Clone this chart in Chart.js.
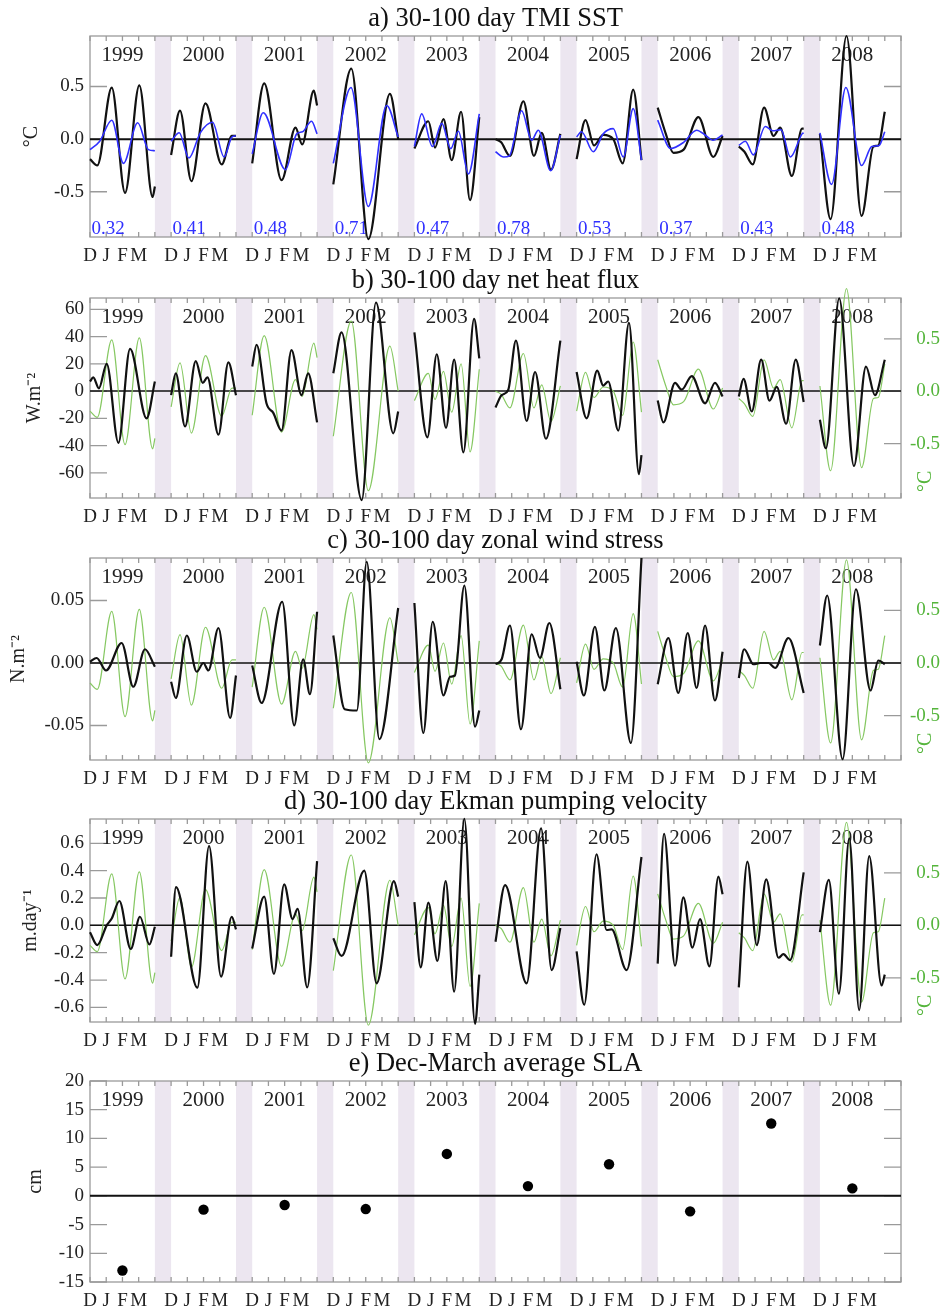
<!DOCTYPE html>
<html>
<head>
<meta charset="utf-8">
<script src="https://cdn.jsdelivr.net/npm/chart.js@4.4.1/dist/chart.umd.min.js"></script>
<style>
  body { margin: 0; background: #fff; }
  #page { position: relative; width: 940px; height: 1312px; }
  #page canvas { position: absolute; left: 0; }
</style>
</head>
<body>
<div id="page"></div>
<script>
// Dec-Mar seasons, one block of 5 "months" per year (D J F M + gap)
const years = ['1999', '2000', '2001', '2002', '2003', '2004', '2005', '2006', '2007', '2008'];
const monthLabels = ['D', 'J', 'F', 'M', ''];
const corr = ['0.32', '0.41', '0.48', '0.71', '0.47', '0.78', '0.53', '0.37', '0.43', '0.48'];

// tick values for each axis
const sstTicks = [-0.5, 0, 0.5];
const fluxTicks = [-60, -40, -20, 0, 20, 40, 60];
const tauTicks = [-0.05, 0, 0.05];
const ekmanTicks = [-0.6, -0.4, -0.2, 0, 0.2, 0.4, 0.6];
const slaTicks = [-15, -10, -5, 0, 5, 10, 15, 20];

// [month since 1 Dec, value] per season
const sstTmi = [
  [[0,-0.19],[0.45,-0.25],[1.34,0.49],[2.16,-0.51],[3.04,0.51],[3.86,-0.55],[4,-0.45]],
  [[0,-0.15],[0.55,0.27],[1.25,-0.40],[2.12,0.34],[3.12,-0.24],[3.75,0.03],[4,0.03]],
  [[0,-0.23],[0.74,0.53],[1.81,-0.39],[2.67,0.11],[3.08,-0.05],[3.8,0.46],[4,0.32]],
  [[0,-0.43],[1.11,0.67],[2.16,-0.95],[3.49,0.43],[4,0.0]],
  [[0,-0.09],[0.86,0.17],[1.27,-0.08],[1.79,0.19],[2.3,-0.2],[2.88,0.26],[3.43,-0.58],[4,0.21]],
  [[0,0.0],[0.35,-0.03],[0.89,-0.16],[1.72,0.36],[2.37,-0.16],[2.85,0.06],[3.42,-0.29],[4,0.05]],
  [[0,-0.19],[0.55,0.18],[1.07,-0.06],[1.64,0.04],[2.26,0.0],[2.84,-0.23],[3.49,0.47],[4,-0.2]],
  [[0,0.3],[0.5,0.05],[0.97,-0.13],[1.6,-0.1],[2.51,0.21],[3.43,-0.17],[4,0.03]],
  [[0,-0.07],[0.35,-0.12],[0.86,-0.24],[1.56,0.3],[2.14,0.03],[2.55,0.11],[3.27,-0.35],[3.9,0.1],[4,0.1]],
  [[0,0.05],[0.66,-0.76],[1.64,0.98],[2.57,-0.73],[3.3,-0.07],[3.6,-0.06],[4,0.26]]
];

const sstBudget = [
  [[0,-0.1],[0.6,-0.02],[1.34,0.18],[2.06,-0.23],[2.94,0.155],[3.6,-0.1],[4,-0.11]],
  [[0,-0.02],[0.5,0.06],[1.1,-0.18],[1.8,0.06],[2.55,0.16],[3.27,-0.17],[3.75,0.02],[4,0.03]],
  [[0,-0.14],[0.68,0.25],[2.05,-0.29],[2.74,0.05],[3.1,0.07],[3.66,0.17],[4,0.05]],
  [[0,-0.23],[1.09,0.49],[2.16,-0.64],[3.29,0.32],[4,0.02]],
  [[0,-0.07],[0.45,0.24],[1.11,-0.07],[1.69,0.15],[2.24,-0.09],[2.71,0.075],[3.33,-0.33],[4,0.24]],
  [[0,-0.12],[0.5,-0.17],[0.85,-0.16],[1.61,0.27],[2.23,-0.01],[2.64,0.085],[3.4,-0.3],[4,0.04]],
  [[0,0.02],[0.3,0.07],[1.03,-0.12],[1.64,0.05],[2.26,0.1],[2.88,-0.17],[3.49,0.29],[4,-0.2]],
  [[0,0.18],[0.8,-0.09],[1.6,-0.03],[2.4,0.085],[3.0,0.03],[3.4,-0.01],[4,0.04]],
  [[0,-0.06],[0.4,-0.02],[0.9,-0.15],[1.63,0.12],[2.1,0.08],[2.6,0.09],[3.18,-0.17],[3.9,0.05],[4,0.06]],
  [[0,0.06],[0.72,-0.43],[1.6,0.49],[2.57,-0.25],[3.2,-0.07],[3.65,-0.06],[4,0.07]]
];

const heatFlux = [
  [[0,7],[0.2,10],[0.55,2],[1.03,20],[1.75,-38],[2.47,31],[3.49,-20],[4,7]],
  [[0,-3],[0.29,13],[0.86,-26],[1.52,22],[1.95,6],[2.24,10],[2.92,-32],[3.53,21],[4,-3]],
  [[0,18],[0.27,34],[0.88,-9],[1.3,-16],[1.81,-29],[2.42,30],[3.04,-3],[3.45,13],[4,-23]],
  [[0,13],[0.51,43],[1.75,-80],[2.63,65],[3.7,-31],[4,-15]],
  [[0,43],[0.8,-34],[1.38,27],[1.95,-27],[2.45,23],[3.02,-45],[3.68,53],[4,24]],
  [[0,-12],[0.38,-3],[0.79,1],[1.26,37],[1.92,-22],[2.44,14],[3.11,-35],[4,37]],
  [[0,14],[0.62,-20],[1.27,15],[1.64,4],[1.95,7],[2.57,-29],[3.23,50],[3.84,-61],[4,-47]],
  [[0,-7],[0.35,-23],[1.07,6],[1.48,1],[2.1,11],[2.92,-9],[3.53,6],[4,-4]],
  [[0,-4],[0.29,9],[0.8,-15],[1.38,23],[1.89,-7],[2.34,3],[2.92,-24],[3.51,23],[4,-8]],
  [[0,-21],[0.37,-42],[1.19,68],[2.1,-55],[2.84,18],[3.39,-3],[4,23]]
];

const windStress = [
  [[0,0.001],[0.41,0.004],[0.99,-0.006],[1.95,0.016],[2.67,-0.019],[3.39,0.011],[4,-0.003]],
  [[0,-0.015],[0.29,-0.028],[0.97,0.022],[1.58,-0.007],[1.99,0.0],[2.3,-0.006],[2.92,0.028],[3.64,-0.044],[4,-0.01]],
  [[0,-0.002],[0.58,-0.032],[1.85,0.049],[2.59,-0.05],[3.14,0.003],[3.56,-0.025],[4,0.041]],
  [[0,0.022],[0.7,-0.037],[1.45,-0.038],[2.06,0.081],[2.84,-0.061],[4,0.044]],
  [[0,0.048],[0.55,-0.056],[1.13,0.033],[1.79,-0.026],[2.2,-0.011],[2.5,-0.01],[3.08,0.062],[3.74,-0.051],[4,-0.038]],
  [[0,-0.001],[0.38,0.003],[0.89,0.03],[1.57,-0.053],[2.23,0.023],[2.74,0.004],[3.32,0.032],[4,-0.021]],
  [[0,0.001],[0.45,-0.026],[1.13,0.029],[1.71,-0.022],[2.42,0.028],[3.35,-0.064],[4,0.084]],
  [[0,-0.017],[0.66,0.02],[1.27,-0.024],[1.85,0.024],[2.4,-0.02],[2.92,0.03],[3.53,-0.03],[4,0.009]],
  [[0,-0.012],[0.33,0.011],[0.9,-0.001],[1.32,0.0],[1.83,0.0],[2.24,-0.004],[3.06,0.02],[4,-0.024]],
  [[0,0.014],[0.45,0.054],[1.4,-0.077],[2.22,0.059],[3.12,-0.022],[3.6,0.002],[4,-0.001]]
];

const ekman = [
  [[0,-0.05],[0.45,-0.145],[1.03,0.0],[1.34,0.05],[1.81,0.178],[2.51,-0.173],[3.08,0.063],[3.66,-0.14],[4,-0.01]],
  [[0,-0.23],[0.3,0.28],[1.62,-0.456],[2.34,0.58],[3.08,-0.375],[3.74,0.063],[4,-0.03]],
  [[0,-0.17],[0.74,0.21],[1.34,-0.356],[1.97,0.3],[2.49,0.046],[2.8,0.12],[3.39,-0.454],[4,0.47]],
  [[0,-0.095],[0.51,-0.224],[1.91,0.4],[2.67,-0.424],[3.74,0.324],[4,0.21]],
  [[0,0.17],[0.39,-0.307],[0.86,0.166],[1.42,-0.26],[1.93,0.324],[2.45,-0.485],[3.08,0.78],[3.74,-0.72],[4,-0.36]],
  [[0,-0.12],[0.59,0.295],[1.92,-0.424],[2.81,0.71],[3.46,-0.327],[4,-0.02]],
  [[0,-0.19],[0.47,-0.58],[1.23,0.52],[1.85,-0.034],[2.16,-0.03],[3.08,-0.327],[4,0.5]],
  [[0,-0.28],[0.39,0.67],[1.07,-0.295],[1.58,0.205],[2.14,-0.163],[2.61,0.046],[3.19,-0.3],[3.74,0.356],[4,0.227]],
  [[0,-0.454],[0.53,0.466],[1.11,-0.144],[1.69,0.337],[2.45,-0.237],[2.75,-0.21],[3.16,-0.254],[4,0.388]],
  [[0,-0.05],[0.55,0.332],[1.17,-0.5],[1.81,0.637],[2.42,-0.62],[3.04,0.507],[3.8,-0.44],[4,-0.36]]
];

// Dec-March mean sea level anomaly (cm)
const slaMean = [-13.0, -2.4, -1.6, -2.3, 7.3, 1.7, 5.5, -2.7, 12.6, 1.3];

const serif = "'Liberation Serif', 'Times New Roman', serif";
const green = '#86c862';
const greenText = '#55b53c';
const bandColor = 'rgb(236, 230, 240)';
const frameColor = '#9a9a9a';

const fmt = (v, d) => (Math.abs(v) < 1e-9 ? 0 : v).toFixed(d);

function seasonSets(series, color, width, axis) {
  return series.map((pts, i) => ({
    data: pts.map(([m, v]) => ({ x: i * 5 + m, y: v })),
    borderColor: color,
    borderWidth: width,
    pointRadius: 0,
    cubicInterpolationMode: 'monotone',
    yAxisID: axis,
    clip: false
  }));
}

function decor(p) {
  return {
    id: 'decor',
    beforeDatasetsDraw(chart) {
      const { ctx, chartArea: a, scales } = chart;
      const x = scales.x, y = scales.y;
      ctx.save();

      // gaps between seasons
      ctx.fillStyle = bandColor;
      for (let i = 0; i < years.length - 1; i++) {
        const x0 = x.getPixelForValue(i * 5 + 4), x1 = x.getPixelForValue(i * 5 + 5);
        ctx.fillRect(x0, a.top, x1 - x0, a.bottom - a.top);
      }

      // frame and inward ticks
      ctx.strokeStyle = frameColor;
      ctx.lineWidth = 1.3;
      ctx.strokeRect(a.left, a.top, a.right - a.left, a.bottom - a.top);
      ctx.beginPath();
      for (let v = 0; v <= 50; v++) {
        const px = x.getPixelForValue(v);
        ctx.moveTo(px, a.bottom); ctx.lineTo(px, a.bottom - 5);
        ctx.moveTo(px, a.top); ctx.lineTo(px, a.top + 5);
      }
      p.yTicks.forEach(v => {
        const py = y.getPixelForValue(v);
        ctx.moveTo(a.left, py); ctx.lineTo(a.left + 17, py);
        if (!p.right) { ctx.moveTo(a.right, py); ctx.lineTo(a.right - 17, py); }
      });
      if (p.right) {
        sstTicks.forEach(v => {
          const py = scales.y2.getPixelForValue(v);
          ctx.moveTo(a.right, py); ctx.lineTo(a.right - 17, py);
        });
      }
      ctx.stroke();

      // zero line
      const y0 = y.getPixelForValue(0);
      ctx.strokeStyle = '#111';
      ctx.lineWidth = p.zero;
      ctx.beginPath();
      ctx.moveTo(a.left, y0); ctx.lineTo(a.right, y0);
      ctx.stroke();

      // panel title
      ctx.fillStyle = '#111';
      ctx.font = '26.5px ' + serif;
      ctx.textAlign = 'center';
      ctx.textBaseline = 'alphabetic';
      ctx.fillText(p.title, (a.left + a.right) / 2, a.top - 10);

      // season labels
      ctx.font = '21px ' + serif;
      ctx.fillStyle = '#222';
      years.forEach((yr, i) => ctx.fillText(yr, x.getPixelForValue(i * 5 + 2), a.top + 25));

      // correlation of the two SST curves
      if (p.notes) {
        ctx.font = '19px ' + serif;
        ctx.fillStyle = '#3030ff';
        ctx.textAlign = 'left';
        p.notes.forEach((t, i) => ctx.fillText(t, x.getPixelForValue(i * 5) + 1.5, a.bottom - 3));
      }

      // right axis unit
      if (p.right) {
        ctx.save();
        ctx.translate(926, a.bottom - 6);
        ctx.rotate(-Math.PI / 2);
        ctx.font = '20px ' + serif;
        ctx.fillStyle = greenText;
        ctx.textAlign = 'left';
        ctx.textBaseline = 'middle';
        ctx.fillText('°C', 0, 0);
        ctx.restore();
      }
      ctx.restore();
    }
  };
}

const panels = [
  { title: 'a) 30-100 day TMI SST', top: 36, bottom: 237, yMin: -0.93, yMax: 0.98, yTicks: sstTicks, dec: 1,
    yTitle: '°C', titlePad: 20, zero: 2,
    sets: () => [...seasonSets(sstBudget, '#3030ff', 1.6, 'y'), ...seasonSets(sstTmi, '#111', 2.2, 'y')],
    notes: corr },
  { title: 'b) 30-100 day net heat flux', top: 298, bottom: 498, yMin: -78.5, yMax: 68.3, yTicks: fluxTicks, dec: 0,
    yTitle: 'W.m⁻²', titlePad: 23, zero: 1.5, right: { min: -1.02, max: 0.89 },
    sets: () => [...seasonSets(heatFlux, '#111', 2.2, 'y'), ...seasonSets(sstTmi, green, 1.2, 'y2')] },
  { title: 'c) 30-100 day zonal wind stress', top: 558, bottom: 760, yMin: -0.0776, yMax: 0.084, yTicks: tauTicks, dec: 2,
    yTitle: 'N.m⁻²', titlePad: 7, zero: 1.5, right: { min: -0.922, max: 0.998 },
    sets: () => [...seasonSets(windStress, '#111', 2.2, 'y'), ...seasonSets(sstTmi, green, 1.2, 'y2')] },
  { title: 'd) 30-100 day Ekman pumping velocity', top: 819, bottom: 1022, yMin: -0.707, yMax: 0.778, yTicks: ekmanTicks, dec: 1,
    yTitle: 'm.day⁻¹', titlePad: 19, zero: 1.5, right: { min: -0.92, max: 1.013 },
    sets: () => [...seasonSets(ekman, '#111', 2.2, 'y'), ...seasonSets(sstTmi, green, 1.2, 'y2')] },
  { title: 'e) Dec-March average SLA', top: 1081, bottom: 1282, yMin: -15, yMax: 20, yTicks: slaTicks, dec: 0,
    yTitle: 'cm', titlePad: 24, zero: 2,
    sets: () => [{
      data: slaMean.map((v, i) => ({ x: i * 5 + 2, y: v })),
      showLine: false, pointRadius: 5.2, pointBackgroundColor: '#000', pointBorderWidth: 0, yAxisID: 'y', clip: false
    }] }
];

const page = document.getElementById('page');

panels.forEach(p => {
  const canvas = document.createElement('canvas');
  canvas.width = 940;
  canvas.height = (p.bottom - p.top) + 36 + 28;
  canvas.style.top = (p.top - 36) + 'px';
  page.appendChild(canvas);

  const scales = {
    x: {
      type: 'linear', min: 0, max: 50,
      grid: { display: false, drawTicks: false },
      border: { display: false },
      afterBuildTicks: s => { s.ticks = Array.from({ length: 51 }, (_, v) => ({ value: v })); },
      afterFit: s => { s.height = 28; },
      ticks: {
        autoSkip: false, maxRotation: 0, padding: 8, color: '#222',
        font: { family: serif, size: 19 },
        callback: v => (v < 50 ? monthLabels[v % 5] : '')
      }
    },
    y: {
      type: 'linear', min: p.yMin, max: p.yMax,
      grid: { display: false, drawTicks: false },
      border: { display: false },
      afterBuildTicks: s => { s.ticks = p.yTicks.map(v => ({ value: v })); },
      afterFit: s => { s.width = 90; },
      ticks: { padding: 6, color: '#222', font: { family: serif, size: 19 }, callback: v => fmt(v, p.dec) },
      title: {
        display: true, text: p.yTitle, color: '#222',
        font: { family: serif, size: 20 }, padding: { top: p.titlePad, bottom: 0 }
      }
    }
  };
  if (p.right) {
    scales.y2 = {
      type: 'linear', position: 'right', min: p.right.min, max: p.right.max,
      grid: { display: false, drawTicks: false },
      border: { display: false },
      afterBuildTicks: s => { s.ticks = sstTicks.map(v => ({ value: v })); },
      afterFit: s => { s.width = 39; },
      ticks: { padding: 6, crossAlign: 'far', color: greenText, font: { family: serif, size: 19 }, callback: v => fmt(v, 1) }
    };
  }

  new Chart(canvas.getContext('2d'), {
    type: 'line',
    data: { datasets: p.sets() },
    options: {
      responsive: false,
      animation: false,
      events: [],
      layout: { padding: { top: 36, right: p.right ? 0 : 39, left: 0, bottom: 0 } },
      plugins: { legend: { display: false }, tooltip: { enabled: false } },
      scales: scales
    },
    plugins: [decor(p)]
  });
});
</script>
</body>
</html>
